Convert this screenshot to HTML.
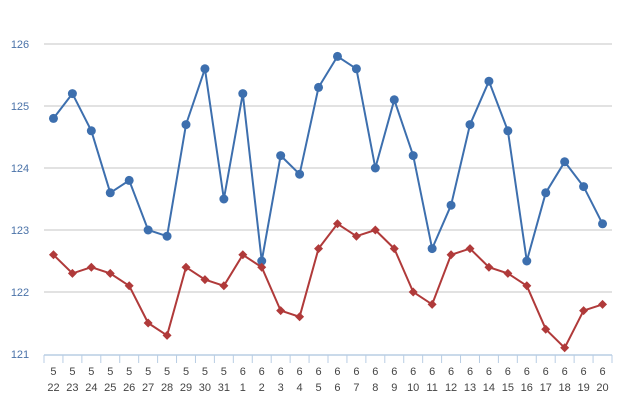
<!DOCTYPE html>
<html><head><meta charset="utf-8"><style>
html,body{margin:0;padding:0;background:#fff;}
svg{display:block;font-family:"Liberation Sans",sans-serif;}
</style></head><body>
<svg id="chart" width="640" height="400" viewBox="0 0 640 400" xmlns="http://www.w3.org/2000/svg">
<g id="grid"></g>
<g id="yaxis"></g>
<g id="xaxis"></g>
<g id="series"></g>
</svg>
<script>
const months = ["5","5","5","5","5","5","5","5","5","5","6","6","6","6","6","6","6","6","6","6","6","6","6","6","6","6","6","6","6","6"];
const days = ["22","23","24","25","26","27","28","29","30","31","1","2","3","4","5","6","7","8","9","10","11","12","13","14","15","16","17","18","19","20"];
const blueValues = [124.8,125.2,124.6,123.6,123.8,123.0,122.9,124.7,125.6,123.5,125.2,122.5,124.2,123.9,125.3,125.8,125.6,124.0,125.1,124.2,122.7,123.4,124.7,125.4,124.6,122.5,123.6,124.1,123.7,123.1];
const redValues = [122.6,122.3,122.4,122.3,122.1,121.5,121.3,122.4,122.2,122.1,122.6,122.4,121.7,121.6,122.7,123.1,122.9,123.0,122.7,122.0,121.8,122.6,122.7,122.4,122.3,122.1,121.4,121.1,121.7,121.8];
const yTicks = [121,122,123,124,125,126];

const NS="http://www.w3.org/2000/svg";
const left=44, right=612, yMin=121, yMax=126, yTop=44, yBot=354;
const band=(right-left)/days.length;
const x=i=>left+band*(i+0.5);
const y=v=>yBot-(v-yMin)/(yMax-yMin)*(yBot-yTop);
function mk(tag,attrs,parent){const e=document.createElementNS(NS,tag);for(const k in attrs)e.setAttribute(k,attrs[k]);parent.appendChild(e);return e;}
const grid=document.getElementById('grid'), ya=document.getElementById('yaxis'), xa=document.getElementById('xaxis'), ser=document.getElementById('series');
yTicks.forEach(t=>{
  if(t>yMin){const l=mk('line',{x1:left,x2:right,y1:y(t),y2:y(t),stroke:'#d8d8d8','stroke-width':1.5},grid);
  
  }
  const tx=mk('text',{x:20,y:y(t)+4,'font-size':11,fill:'#4a72a8','text-anchor':'middle'},ya);
  tx.textContent=t;
  
  
});
const ax=mk('line',{x1:left,x2:right,y1:yBot+1,y2:yBot+1,stroke:'#b8cde4','stroke-width':1.5},xa);


for(let i=0;i<=days.length;i++){
  const tk=mk('line',{x1:left+band*i,x2:left+band*i,y1:yBot+1,y2:yBot+9,stroke:'#b8cde4','stroke-width':1},xa);
  
  
}
days.forEach((d,i)=>{
  const t=mk('text',{x:x(i),y:375,'font-size':11,fill:'#444','text-anchor':'middle'},xa);
  t.textContent=months[i];
  
  
  const t2=mk('text',{x:x(i),y:391,'font-size':11,fill:'#444','text-anchor':'middle'},xa);
  t2.textContent=d;
  
  
});
function drawSeries(vals,color,shape,name){
  const p=mk('polyline',{points:vals.map((v,i)=>x(i)+','+y(v)).join(' '),fill:'none',stroke:color,'stroke-width':2},ser);
  
  
  vals.forEach((v,i)=>{
    let m;
    if(shape==='circle') m=mk('circle',{cx:x(i),cy:y(v),r:4.5,fill:color},ser);
    else {const cx=x(i),cy=y(v),s=4.5;m=mk('polygon',{points:`${cx},${cy-s} ${cx+s},${cy} ${cx},${cy+s} ${cx-s},${cy}`,fill:color},ser);}
    
    
  });
}
drawSeries(blueValues,'#3d6fae','circle','blue-series');
drawSeries(redValues,'#b03a3a','diamond','red-series');
</script>
</body></html>
